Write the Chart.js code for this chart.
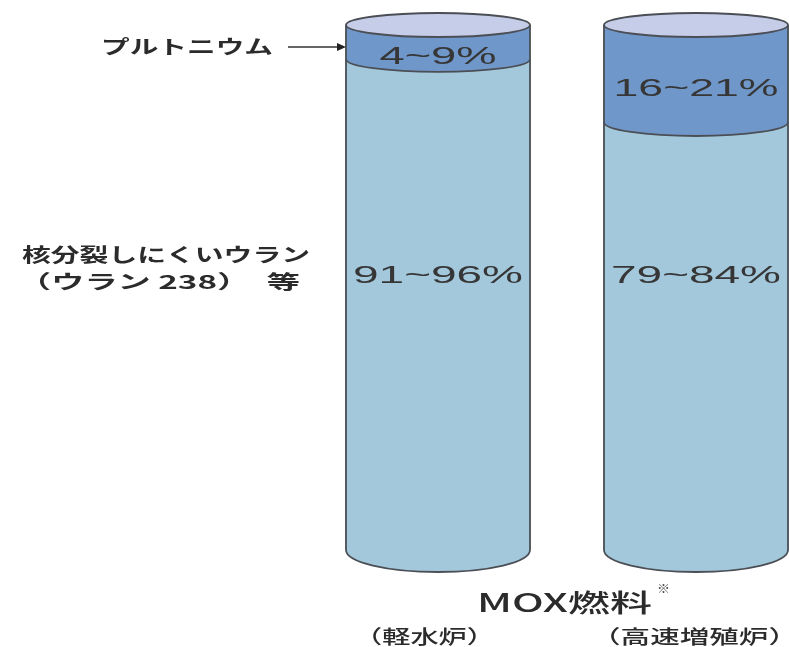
<!DOCTYPE html>
<html>
<head>
<meta charset="utf-8">
<title>MOX燃料</title>
<script src="https://cdn.jsdelivr.net/npm/chart.js@4/dist/chart.umd.min.js"></script>
<style>
  html, body { margin: 0; padding: 0; background: #fff; }
</style>
</head>
<body>
<canvas id="moxChart" width="789" height="647"></canvas>
<script>
// reactor types (one cylinder each)
const reactors = ['軽水炉', '高速増殖炉'];

// stated content ranges, %
const plutoniumLow = [4, 16];
const plutoniumHigh = [9, 21];
const uraniumLow = [91, 79];
const uraniumHigh = [96, 84];

// band heights: midpoints of the stated ranges
const plutoniumShare = [6.5, 18.5];
const uraniumShare = [93.5, 81.5];

const colors = {
    uranium: '#a3c8dc',
    plutonium: '#7097c9',
    lid: '#c6cde8',
    outline: '#4b4f55',
    text: '#2b2b2b'
};

// draws text squeezed/stretched horizontally to a given width
function stretchText(ctx, text, left, cy, font, width, color) {
    ctx.save();
    ctx.font = font;
    const natural = ctx.measureText(text).width;
    ctx.translate(left, cy);
    ctx.scale(width / natural, 1);
    ctx.textBaseline = 'middle';
    ctx.textAlign = 'left';
    ctx.fillStyle = color || colors.text;
    ctx.fillText(text, 0, 0);
    ctx.restore();
}

// ellipse depth grows a little towards the bottom of the cylinder
function depthAt(area, y) {
    return 12 + (y - area.top) / area.height * 10;
}

// one layer of the cylinder: straight walls plus a rounded lower edge
function layerPath(ctx, x, rx, top, bottom, ry) {
    ctx.beginPath();
    ctx.moveTo(x + rx, top);
    ctx.lineTo(x + rx, bottom);
    ctx.ellipse(x, bottom, rx, ry, 0, 0, Math.PI);
    ctx.lineTo(x - rx, top);
    ctx.closePath();
}

const cylinderPlugin = {
    id: 'cylinders',
    afterDatasetsDraw(chart) {
        const ctx = chart.ctx;
        const area = chart.chartArea;
        const uMeta = chart.getDatasetMeta(0);
        const pMeta = chart.getDatasetMeta(1);
        ctx.save();
        ctx.strokeStyle = colors.outline;
        ctx.lineWidth = 1.8;
        uMeta.data.forEach((u, i) => {
            const p = pMeta.data[i];
            const x = u.x;
            const rx = u.width / 2;
            const bottom = u.base;
            const mid = u.y;
            const top = p.y;

            // uranium part with its rounded bottom
            layerPath(ctx, x, rx, mid, bottom, depthAt(area, bottom));
            ctx.fillStyle = colors.uranium;
            ctx.fill();
            ctx.beginPath();
            ctx.ellipse(x, bottom, rx, depthAt(area, bottom), 0, 0, Math.PI);
            ctx.stroke();

            // plutonium layer bulges over the uranium
            layerPath(ctx, x, rx, top, mid, depthAt(area, mid));
            ctx.fillStyle = colors.plutonium;
            ctx.fill();
            ctx.beginPath();
            ctx.ellipse(x, mid, rx, depthAt(area, mid), 0, 0, Math.PI);
            ctx.stroke();

            // lid
            ctx.beginPath();
            ctx.ellipse(x, top, rx, depthAt(area, top), 0, 0, Math.PI * 2);
            ctx.fillStyle = colors.lid;
            ctx.fill();
            ctx.stroke();

            // side walls
            ctx.beginPath();
            ctx.moveTo(x - rx, top);
            ctx.lineTo(x - rx, bottom);
            ctx.moveTo(x + rx, top);
            ctx.lineTo(x + rx, bottom);
            ctx.stroke();
        });
        ctx.restore();
    },
    afterDraw(chart) {
        const ctx = chart.ctx;
        const area = chart.chartArea;
        const yScale = chart.scales.y;
        const uMeta = chart.getDatasetMeta(0);
        const pMeta = chart.getDatasetMeta(1);
        const numFont = '23px "Liberation Sans", Arial, sans-serif';
        const numColor = '#363636';

        uMeta.data.forEach((u, i) => {
            const p = pMeta.data[i];
            // plutonium range, centred in the visible band
            const bandTop = p.y + depthAt(area, p.y);
            const bandBottom = u.y + depthAt(area, u.y);
            const puText = plutoniumLow[i] + '~' + plutoniumHigh[i] + '%';
            const puWidth = i === 0 ? 117 : 165;
            stretchText(ctx, puText, u.x - puWidth / 2, (bandTop + bandBottom) / 2 + 3, numFont, puWidth, numColor);

            // uranium range
            const uText = uraniumLow[i] + '~' + uraniumHigh[i] + '%';
            const uWidth = 170;
            stretchText(ctx, uText, u.x - uWidth / 2, yScale.getPixelForValue(52), numFont, uWidth, numColor);
        });

        const jpFont = 'bold 19px "Noto Sans CJK JP", sans-serif';
        stretchText(ctx, 'プルトニウム', 101, 47, jpFont, 172);
        stretchText(ctx, '核分裂しにくいウラン', 22, 255, jpFont, 288);
        stretchText(ctx, '（ウラン 238）　等', 18, 282, jpFont, 282);

        // arrow to the plutonium layer
        const tipX = uMeta.data[0].x - uMeta.data[0].width / 2;
        ctx.save();
        ctx.strokeStyle = '#333';
        ctx.fillStyle = '#222';
        ctx.lineWidth = 1.6;
        ctx.beginPath();
        ctx.moveTo(288, 47);
        ctx.lineTo(tipX - 6, 47);
        ctx.stroke();
        ctx.beginPath();
        ctx.moveTo(tipX, 47);
        ctx.lineTo(tipX - 9, 43);
        ctx.lineTo(tipX - 9, 51);
        ctx.closePath();
        ctx.fill();
        ctx.restore();

        // captions under the cylinders
        stretchText(ctx, 'MOX燃料', 477, 602, '500 25px "Noto Sans CJK JP", sans-serif', 175);
        stretchText(ctx, '※', 657, 588, '13px "Noto Sans CJK JP", sans-serif', 13, '#555');
        stretchText(ctx, '（' + reactors[0] + '）', 354, 637, '500 19px "Noto Sans CJK JP", sans-serif', 141);
        stretchText(ctx, '（' + reactors[1] + '）', 591, 637, '500 19px "Noto Sans CJK JP", sans-serif', 207);
    }
};

new Chart(document.getElementById('moxChart'), {
    type: 'bar',
    data: {
        labels: reactors,
        datasets: [
            {
                label: '核分裂しにくいウラン（ウラン 238）等',
                data: uraniumShare,
                backgroundColor: colors.uranium
            },
            {
                label: 'プルトニウム',
                data: plutoniumShare,
                backgroundColor: colors.plutonium
            }
        ]
    },
    options: {
        responsive: false,
        animation: false,
        layout: {
            padding: { left: 438, right: 93, top: 25, bottom: 97 }
        },
        datasets: {
            bar: {
                barThickness: 184,
                borderWidth: 0,
                borderSkipped: false,
                clip: false
            }
        },
        plugins: {
            legend: { display: false },
            tooltip: { enabled: false }
        },
        scales: {
            x: { display: false, stacked: true, offset: false, grid: { display: false } },
            y: { display: false, stacked: true, min: 0, max: 100, grid: { display: false } }
        }
    },
    plugins: [cylinderPlugin]
});
</script>
</body>
</html>
